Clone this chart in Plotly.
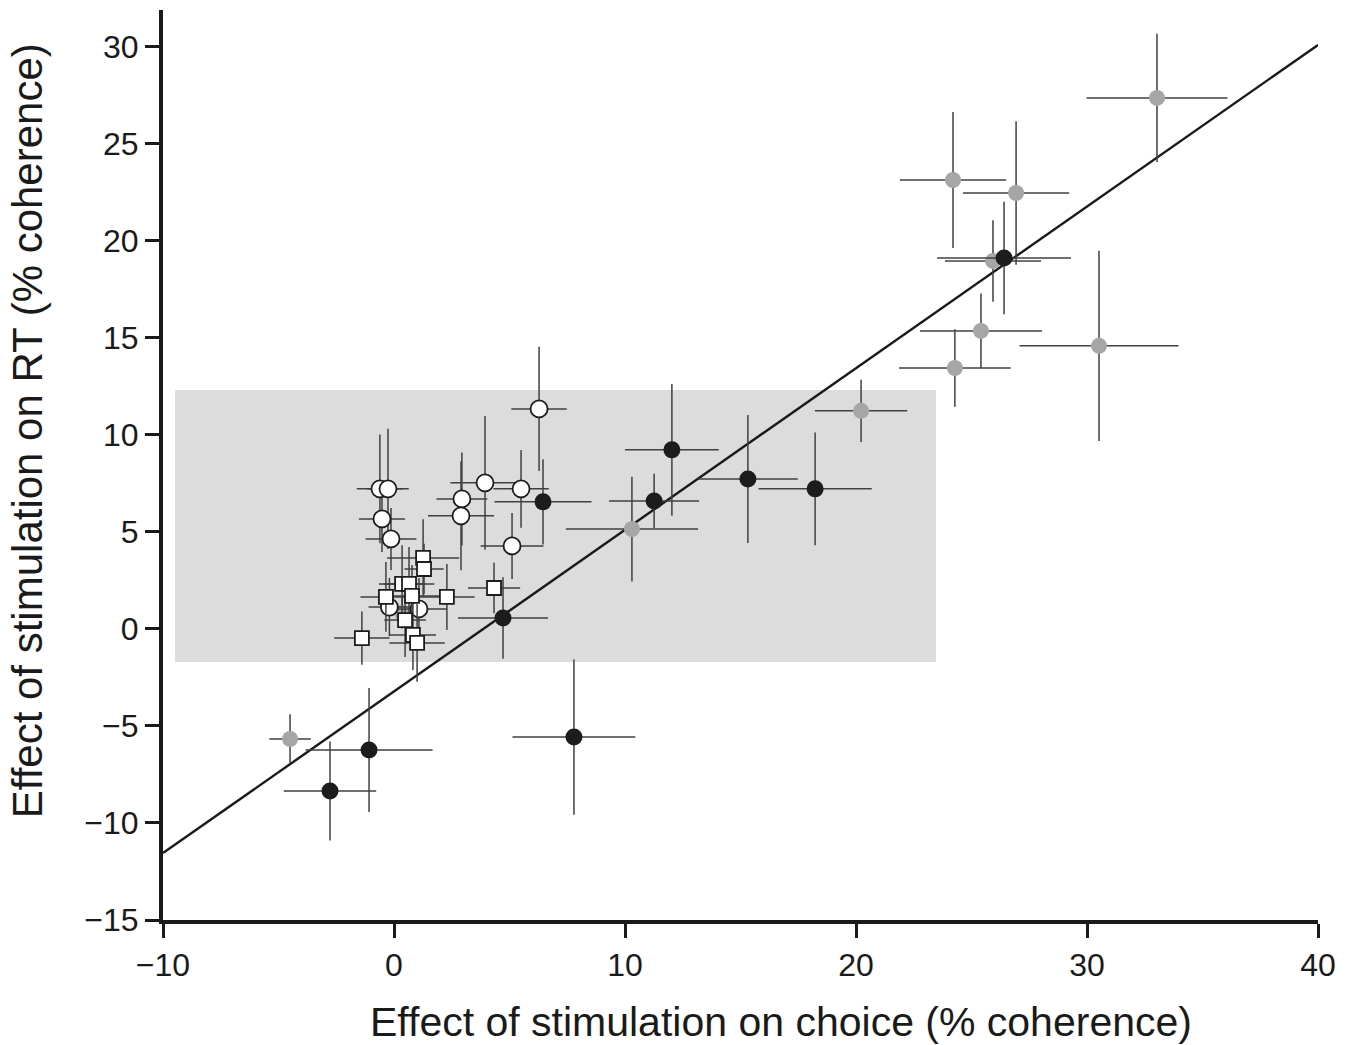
import plotly.graph_objects as go

# Gray filled circles
gray_x = [33.03, 24.20, 26.93, 25.93, 25.41, 24.28, 30.52, 20.22, 10.30, -4.50, 0.35]
gray_y = [27.37, 23.14, 22.47, 18.97, 15.36, 13.45, 14.59, 11.24, 5.15, -5.67, 0.82]
gray_xe = [3.05, 2.30, 2.30, 2.08, 2.64, 2.42, 3.44, 2.00, 2.86, 0.90, 0.60]
gray_ye = [3.30, 3.50, 3.70, 2.10, 1.93, 2.00, 4.90, 1.60, 2.70, 1.27, 0.80]

# Black filled circles
black_x = [26.41, 12.03, 15.32, 18.23, 11.26, 6.45, 4.72, 7.79, -1.08, -2.77]
black_y = [19.12, 9.23, 7.73, 7.22, 6.60, 6.55, 0.57, -5.57, -6.24, -8.35]
black_xe = [2.90, 2.03, 2.16, 2.45, 1.95, 2.10, 1.95, 2.66, 2.75, 2.00]
black_ye = [2.90, 3.40, 3.30, 2.90, 1.40, 2.20, 2.10, 4.00, 3.20, 2.55]

# Open circles
white_x = [6.28, -0.61, -0.26, -0.52, -0.13, 2.94, 2.90, 3.94, 5.50, 5.11, -0.20, 1.08]
white_y = [11.34, 7.22, 7.22, 5.67, 4.64, 6.70, 5.83, 7.53, 7.22, 4.28, 1.13, 1.03]
white_xe = [1.20, 1.00, 0.90, 1.00, 1.10, 1.10, 1.43, 1.50, 1.20, 1.36, 0.90, 1.20]
white_ye = [3.20, 2.80, 3.10, 1.70, 1.60, 2.40, 2.80, 3.45, 2.00, 1.70, 1.50, 1.60]

# Open squares
sq_x = [1.26, 1.30, 0.35, 0.65, -0.35, 0.78, 2.29, 4.33, -1.39, 0.82, 1.00, 0.48]
sq_y = [3.66, 3.09, 2.32, 2.32, 1.65, 1.70, 1.65, 2.11, -0.47, -0.31, -0.72, 0.46]
sq_xe = [1.56, 0.85, 1.00, 1.10, 1.10, 1.20, 1.20, 1.13, 1.20, 1.00, 1.20, 0.90]
sq_ye = [2.00, 1.30, 2.00, 1.90, 1.80, 1.60, 1.70, 1.30, 1.37, 1.80, 2.00, 1.90]

# Regression line
fit_slope = 0.833
fit_intercept = -3.22
fit_x = [-10, 40]

# Shaded region
shade_x = [-9.48, 23.46]
shade_y = [-1.70, 12.32]

x_ticks = [-10, 0, 10, 20, 30, 40]
y_ticks = [-15, -10, -5, 0, 5, 10, 15, 20, 25, 30]

x_title = "Effect of stimulation on choice (% coherence)"
y_title = "Effect of stimulation on RT (% coherence)"

ebar_col = "#404040"

def err(arr):
    return dict(type="data", array=arr, visible=True, color=ebar_col, thickness=1.5, width=0)

fig = go.Figure()

fig.add_shape(type="rect", x0=shade_x[0], x1=shade_x[1], y0=shade_y[0], y1=shade_y[1],
              fillcolor="#dcdcdc", line=dict(width=0), layer="below")

fig.add_trace(go.Scatter(x=fit_x, y=[fit_slope * v + fit_intercept for v in fit_x],
                         mode="lines", line=dict(color="#1a1a1a", width=2.4),
                         showlegend=False, hoverinfo="skip"))

fig.add_trace(go.Scatter(x=gray_x, y=gray_y, mode="markers",
                         error_x=err(gray_xe), error_y=err(gray_ye),
                         marker=dict(color="#a6a6a6", size=16, line=dict(width=0)),
                         showlegend=False))
fig.add_trace(go.Scatter(x=black_x, y=black_y, mode="markers",
                         error_x=err(black_xe), error_y=err(black_ye),
                         marker=dict(color="#1c1c1c", size=17, line=dict(width=0)),
                         showlegend=False))
fig.add_trace(go.Scatter(x=white_x, y=white_y, mode="markers",
                         error_x=err(white_xe), error_y=err(white_ye),
                         marker=dict(color="white", size=17, line=dict(width=1.8, color="#1c1c1c")),
                         showlegend=False))
fig.add_trace(go.Scatter(x=sq_x, y=sq_y, mode="markers",
                         error_x=err(sq_xe), error_y=err(sq_ye),
                         marker=dict(color="white", size=14, symbol="square",
                                     line=dict(width=1.8, color="#1c1c1c")),
                         showlegend=False))

font_family = "Liberation Sans, Arial, sans-serif"

fig.add_annotation(text=x_title, xref="paper", yref="paper", x=0.535, y=-0.112,
                   xanchor="center", yanchor="middle", showarrow=False,
                   font=dict(size=41, family=font_family, color="#1a1a1a"))
fig.add_annotation(text=y_title, xref="paper", yref="paper", x=-0.117, y=0.538,
                   xanchor="center", yanchor="middle", showarrow=False, textangle=-90,
                   font=dict(size=42, family=font_family, color="#1a1a1a"))

fig.update_layout(
    width=1360, height=1045,
    margin=dict(l=163, r=42, t=10, b=125),
    plot_bgcolor="white", paper_bgcolor="white",
    font=dict(family=font_family, color="#1a1a1a"),
)
fig.update_xaxes(
    range=[-10, 40], tickvals=x_ticks, showgrid=False, zeroline=False,
    showline=True, linecolor="#1a1a1a", linewidth=4,
    ticks="outside", ticklen=14, tickwidth=3, tickcolor="#1a1a1a",
    tickfont=dict(size=32),
)
fig.update_yaxes(
    range=[-15, 31.9], tickvals=y_ticks, showgrid=False, zeroline=False,
    showline=True, linecolor="#1a1a1a", linewidth=4,
    ticks="outside", ticklen=14, tickwidth=3, tickcolor="#1a1a1a",
    tickfont=dict(size=32),
)

fig.write_html("out.html")
